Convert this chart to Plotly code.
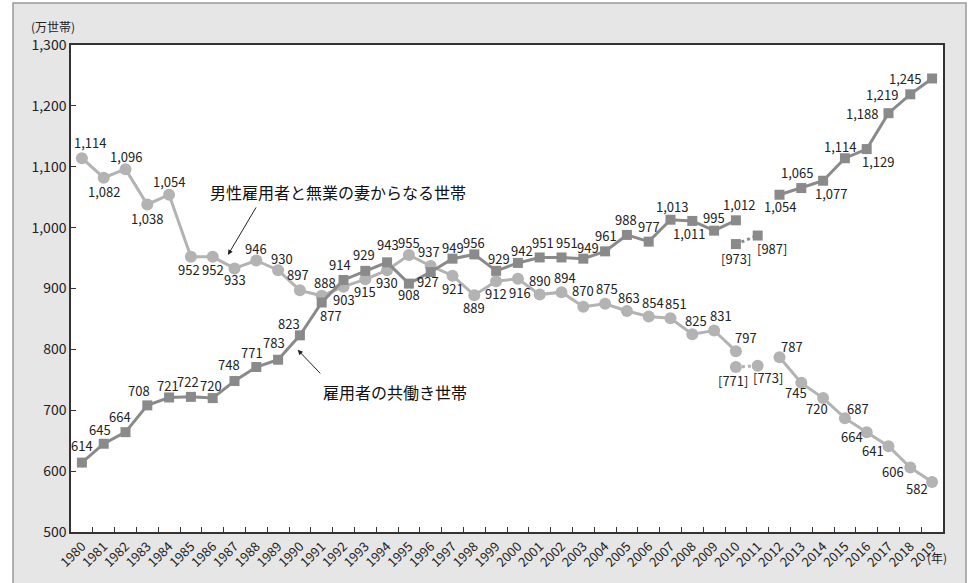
import plotly.graph_objects as go

# ---------------- data ----------------
years = [str(y) for y in range(1980, 2020)]
single_earner = [1114, 1082, 1096, 1038, 1054, 952, 952, 933, 946, 930,
                 897, 888, 903, 915, 930, 955, 937, 921, 889, 912,
                 916, 890, 894, 870, 875, 863, 854, 851, 825, 831,
                 797, None, 787, 745, 720, 687, 664, 641, 606, 582]
dual_income = [614, 645, 664, 708, 721, 722, 720, 748, 771, 783,
               823, 877, 914, 929, 943, 908, 927, 949, 956, 929,
               942, 951, 951, 949, 961, 988, 977, 1013, 1011, 995,
               1012, None, 1054, 1065, 1077, 1114, 1129, 1188, 1219, 1245]
bracket_years = ["2010", "2011"]
single_bracket = [771, 773]
dual_bracket = [973, 987]

label_single = "男性雇用者と無業の妻からなる世帯"
label_dual = "雇用者の共働き世帯"

# ---------------- label offsets (pixels, dx right, dy down) ----------------
single_off = [(8, -16), (0, 14), (0, -13), (0, 14), (0, -13), (-2, 13), (0, 13), (0, 11), (0, -12), (4, -12),
              (-2, -16), (3, -13), (0, 13), (0, 12), (0, 12), (0, -13), (-2, -14), (0, 13), (0, 12), (0, 12),
              (2, 14), (0, -14), (3, -15), (0, -16), (2, -15), (2, -14), (4, -14), (5, -15), (4, -14), (7, -15),
              (10, -14), None, (12, -11), (-5, 10), (-6, 10), (13, -10), (-15, 4), (-16, 4), (-17, 4), (-15, 6)]
dual_off = [(0, -17), (-4, -14), (-6, -16), (-8, -15), (-1, -12), (-3, -15), (-2, -13), (-6, -17), (-4, -15), (-4, -17),
            (-11, -12), (9, 13), (-4, -15), (-1, -16), (1, -18), (0, 11), (-3, 9), (0, -11), (0, -12), (3, -12),
            (4, -12), (3, -15), (5, -15), (5, -11), (1, -16), (-1, -15), (0, -15), (1, -13), (-3, 13), (0, -13),
            (3, -16), None, (0, 12), (-4, -16), (8, 13), (-5, -12), (11, 12), (-27, 0), (-28, 0), (-27, 0)]
single_br_off = [(-3, 13), (10, 12)]
dual_br_off = [(0, 14), (14, 13)]

C_SINGLE = "#b3b3b3"
C_DUAL = "#8a8a8a"
FONT = "Noto Sans CJK JP"

fig = go.Figure()

fig.add_trace(go.Scatter(x=years, y=single_earner, mode="lines+markers",
                         line=dict(color=C_SINGLE, width=3),
                         marker=dict(symbol="circle", size=12, color=C_SINGLE),
                         connectgaps=False, hoverinfo="skip"))
fig.add_trace(go.Scatter(x=bracket_years, y=single_bracket, mode="lines+markers",
                         line=dict(color=C_SINGLE, width=3, dash="dot"),
                         marker=dict(symbol="circle", size=12, color=C_SINGLE), hoverinfo="skip"))
fig.add_trace(go.Scatter(x=years, y=dual_income, mode="lines+markers",
                         line=dict(color=C_DUAL, width=3),
                         marker=dict(symbol="square", size=10, color=C_DUAL),
                         connectgaps=False, hoverinfo="skip"))
fig.add_trace(go.Scatter(x=bracket_years, y=dual_bracket, mode="lines+markers",
                         line=dict(color=C_DUAL, width=3, dash="dot"),
                         marker=dict(symbol="square", size=10, color=C_DUAL), hoverinfo="skip"))

annotations = []


def add_labels(xs, vals, offs, bracket=False):
    for x, v, o in zip(xs, vals, offs):
        if v is None or o is None:
            continue
        txt = f"[{v:,}]" if bracket else f"{v:,}"
        annotations.append(dict(x=years.index(x), y=v, xref="x", yref="y", text=txt, showarrow=False,
                                xanchor="center", yanchor="middle",
                                xshift=o[0], yshift=-o[1],
                                font=dict(size=13, color="#222", family=FONT)))


add_labels(years, single_earner, single_off)
add_labels(years, dual_income, dual_off)
add_labels(bracket_years, single_bracket, single_br_off, True)
add_labels(bracket_years, dual_bracket, dual_br_off, True)

# series name callouts with arrows
annotations.append(dict(x=0.180, y=0.569, xref="paper", yref="paper", text="",
                        showarrow=True, ax=29, ay=-49, arrowhead=2, arrowsize=1,
                        arrowwidth=1, arrowcolor="#222"))
annotations.append(dict(x=0.306, y=0.698, xref="paper", yref="paper", text=label_single,
                        xanchor="center", yanchor="middle",
                        showarrow=False, font=dict(size=16, color="#111", family=FONT)))
annotations.append(dict(x=0.260, y=0.374, xref="paper", yref="paper", text="",
                        showarrow=True, ax=24, ay=25, arrowhead=2, arrowsize=1,
                        arrowwidth=1, arrowcolor="#222"))
annotations.append(dict(x=0.372, y=0.287, xref="paper", yref="paper", text=label_dual,
                        xanchor="center", yanchor="middle",
                        showarrow=False, font=dict(size=16, color="#111", family=FONT)))
# axis unit labels
annotations.append(dict(x=-0.021, y=1.037, xref="paper", yref="paper", text="(万世帯)",
                        xanchor="center", yanchor="middle",
                        showarrow=False, font=dict(size=12, color="#222", family=FONT)))
annotations.append(dict(x=0.993, y=-0.053, xref="paper", yref="paper", text="(年)",
                        xanchor="center", yanchor="middle",
                        showarrow=False, font=dict(size=12, color="#222", family=FONT)))

shapes = [
    dict(type="rect", xref="paper", yref="paper", x0=-0.0665, x1=1.0264, y0=-0.13, y1=1.086,
         fillcolor="#e6e6e6", line=dict(color="#9a9a9a", width=1.5), layer="below"),
    dict(type="rect", xref="paper", yref="paper", x0=0, x1=1, y0=0, y1=1,
         fillcolor="white", line=dict(width=0), layer="below"),
]

fig.update_layout(
    width=975, height=583,
    margin=dict(l=71, r=32, t=45, b=51),
    paper_bgcolor="white", plot_bgcolor="white",
    showlegend=False,
    font=dict(family=FONT, color="#222"),
    annotations=annotations,
    shapes=shapes,
)
fig.update_xaxes(type="category", categoryorder="array", categoryarray=years,
                 range=[-0.5, 39.5], tickangle=-45, tickson="boundaries",
                 ticks="inside", ticklen=5, tickcolor="#333",
                 showline=True, linecolor="#333", linewidth=1.5, mirror=True,
                 showgrid=False, zeroline=False,
                 tickfont=dict(size=13, color="#222", family=FONT))
fig.update_yaxes(range=[500, 1300], dtick=100, tickformat=",",
                 ticks="inside", ticklen=5, tickcolor="#333",
                 showline=True, linecolor="#333", linewidth=1.5, mirror=True,
                 showgrid=False, zeroline=False,
                 tickfont=dict(size=14, color="#222", family=FONT))

fig.write_html("out.html", config={"displayModeBar": False},
               post_script="document.body.style.margin='0px';document.body.style.overflow='hidden';")
